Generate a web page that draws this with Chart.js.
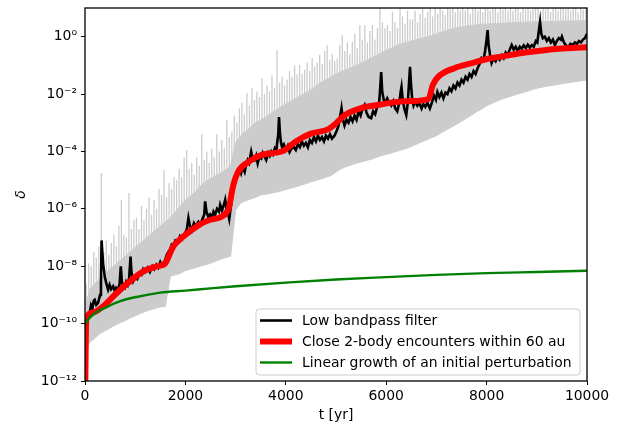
<!DOCTYPE html>
<html>
<head>
<meta charset="utf-8">
<script src="https://cdn.jsdelivr.net/npm/chart.js@4.4.1/dist/chart.umd.min.js"></script>
<style>
    html, body { margin: 0; padding: 0; background: #fff; }
    #wrap { width: 625px; height: 426px; }
</style>
</head>
<body>
<div id="wrap"><canvas id="chart" width="625" height="426"></canvas></div>
<script>
// Valeurs (log10 de delta)
const yTickExps = [-12, -10, -8, -6, -4, -2, 0];
const xTicks = [0, 2000, 4000, 6000, 8000, 10000];

// signal brut (gris) : enveloppes tous les 100 ans, pics tous les 50 ans
const grayT = Array.from({ length: 101 }, (_, i) => i * 100);
const grayLowLog = [
    -10.9, -10.65, -10.5, -10.35, -10.25, -10.15, -10.05, -9.97, -9.9, -9.8,
    -9.73, -9.65, -9.58, -9.52, -9.47, -9.42, -9.4, -8.35, -8.3, -8.25,
    -8.15, -8.1, -8.05, -8.0, -7.95, -7.9, -7.83, -7.76, -7.7, -7.65,
    -6.05, -5.8, -5.72, -5.66, -5.6, -5.52, -5.49, -5.46, -5.42, -5.38,
    -5.33, -5.28, -5.23, -5.18, -5.12, -5.06, -5.01, -4.96, -4.9, -4.84,
    -4.72, -4.6, -4.53, -4.47, -4.41, -4.37, -4.32, -4.27, -4.21, -4.15,
    -4.1, -4.05, -4.0, -3.95, -3.9, -3.83, -3.75, -3.67, -3.6, -3.52,
    -3.45, -3.35, -3.25, -3.15, -3.05, -2.95, -2.84, -2.73, -2.62, -2.52,
    -2.41, -2.33, -2.25, -2.18, -2.12, -2.07, -2.01, -1.96, -1.91, -1.85,
    -1.8, -1.76, -1.73, -1.7, -1.67, -1.64, -1.61, -1.58, -1.56, -1.53,
    -1.51
];
const grayTopLog = [
    -9.4, -8.8, -8.6, -8.45, -8.25, -8.1, -7.95, -7.8, -7.65, -7.5,
    -7.35, -7.2, -7.05, -6.9, -6.75, -6.6, -6.45, -6.3, -6.1, -5.9,
    -5.7, -5.55, -5.4, -5.2, -5.05, -4.95, -4.85, -4.75, -4.65, -4.5,
    -3.7, -3.45, -3.3, -3.15, -3.0, -2.9, -2.8, -2.68, -2.56, -2.45,
    -2.35, -2.25, -2.15, -2.05, -1.95, -1.85, -1.72, -1.6, -1.5, -1.4,
    -1.3, -1.22, -1.15, -1.08, -1.0, -0.92, -0.83, -0.74, -0.65, -0.56,
    -0.48, -0.4, -0.32, -0.25, -0.2, -0.15, -0.1, -0.06, -0.02, 0.03,
    0.1, 0.16, 0.22, 0.27, 0.31, 0.34, 0.37, 0.39, 0.41, 0.43,
    0.44, 0.45, 0.46, 0.47, 0.48, 0.49, 0.5, 0.5, 0.51, 0.51,
    0.52, 0.52, 0.53, 0.53, 0.54, 0.54, 0.55, 0.55, 0.55, 0.56,
    0.56
];
const spikeT = Array.from({ length: 200 }, (_, i) => 25 + i * 50);
const spikeLog = [
    -8.6, -7.9, -8.0, -7.5, -7.7, -7.3, -4.75, -7.5, -7.1, -7.6,
    -7.2, -6.9, -7.3, -6.6, -5.7, -6.9, -7.0, -5.45, -6.7, -6.4,
    -6.3, -6.7, -5.9, -6.4, -6.0, -5.6, -6.2, -5.7, -6.0, -5.3,
    -5.5, -4.65, -5.6, -5.1, -5.3, -4.9, -5.0, -4.6, -4.9, -4.2,
    -3.95, -4.6, -4.4, -4.8, -4.2, -4.5, -3.4, -4.3, -4.0, -4.4,
    -3.9, -4.2, -3.4, -4.0, -3.6, -3.9, -2.9, -3.5, -3.3, -2.75,
    -3.0, -2.5, -2.3, -2.7, -1.95, -2.4, -1.8, -2.2, -1.9, -2.1,
    -1.45, -2.0, -1.7, -1.9, -1.35, -1.8, -0.47, -1.6, -1.4, -1.7,
    -1.5, -1.2, -1.4, -1.0, -1.3, -0.99, -1.3, -1.15, -0.9, -1.2,
    -0.75, -1.05, -0.9, -0.64, -0.95, -0.5, -0.3, -0.8, -0.6, -0.85,
    -0.75, -0.3, 0.05, -0.5, -0.2, -0.6, -0.18, 0.1, -0.4, 0.4,
    -0.1, 0.4, -0.2, 0.2, 0.41, -0.1, 0.3, 1.0, 0.5, 0.3,
    0.41, 0.2, 0.86, 0.5, 0.3, 1.0, 0.7, 0.45, 0.9, 0.6,
    0.6, 0.9, 0.5, 0.8, 1.0, 0.65, 0.85, 1.0, 0.7, 1.0,
    0.8, 1.0, 0.9, 0.75, 1.0, 0.95, 1.0, 0.85, 1.0, 0.9,
    1.0, 0.9, 1.0, 0.8, 1.0, 1.0, 0.9, 1.0, 0.85, 1.0,
    1.0, 0.9, 1.0, 1.0, 0.85, 1.0, 0.95, 1.0, 0.9, 1.0,
    0.9, 1.0, 1.0, 0.85, 1.0, 0.95, 1.0, 0.9, 1.0, 1.0,
    1.0, 0.9, 1.0, 0.95, 1.0, 0.85, 1.0, 1.0, 0.9, 1.0,
    1.0, 0.95, 1.0, 0.9, 1.0, 1.0, 0.85, 1.0, 0.95, 1.0
];

// filtre passe-bas (noir) : [t, log10 delta]
const blackPts = [
    [10, -10.6], [40, -9.9], [70, -9.75], [93, -9.63], [120, -9.35], [150, -9.45], [175, -9.2], [193, -9.17],
    [225, -9.35], [260, -9.28], [300, -9.0], [318, -8.6], [330, -7.1], [345, -7.5], [360, -7.9], [393, -8.36],
    [425, -8.6], [460, -8.82], [490, -8.65], [520, -8.8], [560, -8.7], [590, -8.85], [620, -8.75], [660, -8.82],
    [690, -8.6], [713, -8.0], [735, -8.55], [760, -8.7], [793, -8.75], [820, -8.55], [850, -8.65], [880, -8.4],
    [907, -7.66], [925, -8.2], [960, -8.53], [1000, -8.4], [1040, -8.45], [1080, -8.25], [1127, -8.3], [1160, -8.1],
    [1200, -8.2], [1250, -8.05], [1293, -8.2], [1340, -8.0], [1380, -8.1], [1420, -7.95], [1460, -8.05], [1500, -7.85],
    [1530, -7.95], [1593, -7.8], [1630, -7.6], [1660, -7.5], [1700, -7.4], [1727, -7.25], [1760, -7.3], [1800, -7.1],
    [1850, -7.15], [1893, -6.95], [1940, -7.05], [1980, -6.9], [2030, -6.7], [2060, -6.32], [2085, -6.55], [2127, -6.75],
    [2170, -6.5], [2200, -6.6], [2260, -6.45], [2300, -6.55], [2340, -6.35], [2375, -6.2], [2393, -5.74], [2420, -6.1],
    [2460, -6.3], [2493, -6.2], [2530, -6.3], [2560, -6.1], [2593, -6.2], [2630, -6.0], [2670, -6.1], [2693, -5.86],
    [2730, -6.05], [2760, -5.9], [2793, -5.68], [2820, -6.0], [2850, -6.15], [2873, -6.35], [2900, -6.0], [2930, -5.6],
    [2960, -5.3], [2980, -5.17], [3020, -4.9], [3050, -4.65], [3080, -4.57], [3110, -4.75], [3140, -4.55], [3180, -4.71],
    [3210, -4.45], [3240, -4.3], [3270, -4.4], [3310, -4.01], [3340, -4.25], [3380, -4.3], [3410, -4.15], [3440, -4.41],
    [3470, -4.2], [3510, -4.25], [3540, -4.05], [3580, -4.19], [3610, -4.3], [3650, -4.05], [3680, -4.15], [3710, -4.0],
    [3745, -4.1], [3780, -3.9], [3810, -4.0], [3830, -3.67], [3850, -3.4], [3865, -2.8], [3885, -3.4], [3905, -3.7],
    [3925, -3.84], [3960, -3.75], [4000, -3.95], [4040, -3.8], [4075, -4.02], [4110, -3.9], [4160, -3.85], [4200, -3.95],
    [4240, -3.75], [4280, -3.85], [4320, -3.65], [4360, -3.8], [4400, -3.7], [4440, -3.85], [4480, -3.6], [4520, -3.7],
    [4560, -3.5], [4600, -3.65], [4640, -3.45], [4680, -3.6], [4720, -3.5], [4760, -3.65], [4800, -3.45], [4840, -3.55],
    [4880, -3.4], [4920, -3.55], [4970, -3.45], [5010, -3.3], [5050, -3.1], [5080, -2.8], [5110, -2.49], [5140, -2.9],
    [5170, -3.1], [5210, -2.9], [5250, -3.0], [5290, -2.8], [5330, -2.95], [5370, -2.75], [5410, -2.9], [5450, -2.6],
    [5490, -2.75], [5530, -2.5], [5570, -2.38], [5610, -2.65], [5650, -2.8], [5700, -2.84], [5740, -2.6], [5780, -2.7],
    [5820, -2.45], [5860, -2.3], [5880, -1.8], [5900, -1.23], [5920, -1.9], [5950, -2.2], [5980, -2.3], [6020, -2.15],
    [6060, -2.3], [6100, -2.4], [6140, -2.25], [6180, -2.5], [6220, -2.6], [6260, -2.3], [6290, -1.9], [6305, -1.75],
    [6330, -2.2], [6360, -2.5], [6400, -2.73], [6430, -2.3], [6455, -1.6], [6475, -1.05], [6495, -1.7], [6520, -2.2],
    [6545, -2.4], [6580, -2.25], [6620, -2.4], [6660, -2.3], [6705, -2.5], [6740, -2.35], [6780, -2.45], [6820, -2.3],
    [6870, -2.5], [6910, -2.3], [6950, -2.05], [6990, -2.2], [7020, -1.93], [7060, -2.1], [7100, -1.95], [7140, -2.15],
    [7180, -1.95], [7220, -2.0], [7260, -1.8], [7300, -1.9], [7340, -1.7], [7380, -1.8], [7420, -1.6], [7460, -1.7],
    [7500, -1.5], [7540, -1.6], [7580, -1.4], [7620, -1.5], [7660, -1.3], [7700, -1.4], [7740, -1.2], [7780, -1.3],
    [7820, -1.1], [7860, -0.95], [7900, -0.74], [7940, -0.8], [7970, -0.5], [8000, -0.1], [8020, 0.23], [8040, -0.3],
    [8070, -0.65], [8100, -0.92], [8140, -0.75], [8180, -0.85], [8220, -0.7], [8260, -0.8], [8300, -0.65], [8340, -0.75],
    [8380, -0.55], [8420, -0.65], [8460, -0.45], [8500, -0.29], [8540, -0.45], [8580, -0.35], [8620, -0.5], [8660, -0.35],
    [8700, -0.42], [8740, -0.3], [8780, -0.4], [8820, -0.28], [8860, -0.38], [8900, -0.29], [8940, -0.35], [8980, -0.15],
    [9010, -0.2], [9040, 0.2], [9065, 0.52], [9090, 0.1], [9120, -0.05], [9160, 0.0], [9200, -0.15], [9240, -0.05],
    [9280, -0.2], [9320, -0.1], [9360, -0.29], [9400, -0.15], [9440, -0.05], [9480, -0.1], [9500, 0.0], [9540, -0.2],
    [9580, -0.3], [9630, -0.36], [9670, -0.25], [9710, -0.3], [9760, -0.2], [9800, -0.25], [9840, -0.15], [9880, -0.2],
    [9920, -0.1], [9960, -0.05], [10000, 0.1]
];

// rencontres proches à 2 corps (rouge)
const redT = [
    0, 25, 150, 360, 627, 893, 1160, 1400, 1560, 1600,
    1760, 1960, 2230, 2500, 2850, 2950, 3050, 3250, 3520, 3960,
    4200, 4500, 4840, 4980, 5180, 5500, 5840, 6170, 6500, 6840,
    6930, 7030, 7370, 7710, 8030, 8370, 8700, 9020, 9360, 9700,
    10000
];
const redLog = [
    -13, -9.87, -9.62, -9.4, -8.94, -8.53, -8.18, -8.02, -7.95, -7.9,
    -7.31, -6.96, -6.61, -6.38, -6.05, -5.2, -4.71, -4.37, -4.12, -3.97,
    -3.65, -3.38, -3.23, -3.05, -2.73, -2.49, -2.38, -2.28, -2.24, -2.17,
    -1.68, -1.41, -1.09, -0.92, -0.77, -0.67, -0.57, -0.5, -0.43, -0.39,
    -0.37
];

// croissance linéaire (vert)
const greenT = [0, 100, 250, 400, 700, 1000, 1500, 2000, 2500, 3000, 4000, 5000, 6000, 7000, 8000, 9000, 10000];
const greenLog = [-10.0, -9.78, -9.58, -9.45, -9.22, -9.08, -8.92, -8.85, -8.77, -8.7, -8.57, -8.46, -8.38, -8.3, -8.24, -8.2, -8.16];

const legendLabels = [
    'Low bandpass filter',
    'Close 2-body encounters within 60 au',
    'Linear growth of an initial perturbation'
];

const pts = (ts, logs) => ts.map((t, i) => ({ x: t, y: Math.pow(10, logs[i]) }));

// pics verticaux du signal brut, depuis le haut de la bande dense
const spikePoints = [];
spikeT.forEach((t, i) => {
    const base = grayTopLog[Math.floor(t / 100)];
    spikePoints.push({ x: t, y: Math.pow(10, base) });
    spikePoints.push({ x: t, y: Math.pow(10, spikeLog[i]) });
    spikePoints.push({ x: t, y: null });
});

const SUP = { '-': '\u207B', '0': '\u2070', '1': '\u00B9', '2': '\u00B2', '3': '\u00B3', '4': '\u2074',
    '5': '\u2075', '6': '\u2076', '7': '\u2077', '8': '\u2078', '9': '\u2079' };
const sup = n => String(n).split('').map(c => SUP[c]).join('');

const FONT = 'DejaVu Sans';
Chart.defaults.font.family = FONT;
Chart.defaults.font.size = 13.9;
Chart.defaults.color = '#000';

// cadre autour de la zone de tracé + légende en bas à droite
const framePlugin = {
    id: 'frame',
    afterDraw(chart) {
        const { ctx, chartArea: a } = chart;
        ctx.save();
        ctx.strokeStyle = '#000';
        ctx.lineWidth = 1.3;
        ctx.strokeRect(a.left, a.top, a.right - a.left, a.bottom - a.top);

        // légende
        const items = chart.data.datasets.filter(d => d.inLegend);
        const w = 324, h = 66;
        const x0 = a.right - 7 - w, y0 = a.bottom - 6 - h;
        ctx.beginPath();
        ctx.roundRect(x0, y0, w, h, 3);
        ctx.fillStyle = 'rgba(255,255,255,0.8)';
        ctx.fill();
        ctx.strokeStyle = '#cccccc';
        ctx.lineWidth = 1;
        ctx.stroke();
        ctx.font = '13.9px "' + FONT + '"';
        ctx.textBaseline = 'middle';
        ctx.fillStyle = '#000';
        items.forEach((d, i) => {
            const yy = y0 + 11.5 + i * 21;
            ctx.beginPath();
            ctx.moveTo(x0 + 4, yy);
            ctx.lineTo(x0 + 36, yy);
            ctx.strokeStyle = d.borderColor;
            ctx.lineWidth = d.borderWidth;
            ctx.stroke();
            ctx.fillText(d.label, x0 + 46, yy + 1);
        });
        ctx.restore();
    }
};

const config = {
    type: 'line',
    data: {
        datasets: [
            {
                label: 'raw low',
                data: pts(grayT, grayLowLog),
                borderColor: '#cccccc',
                borderWidth: 1,
                pointRadius: 0,
                fill: false,
                order: 5
            },
            {
                label: 'raw top',
                data: pts(grayT, grayTopLog),
                borderColor: '#cccccc',
                backgroundColor: '#cccccc',
                borderWidth: 1,
                pointRadius: 0,
                fill: '-1',
                order: 4
            },
            {
                label: 'raw spikes',
                data: spikePoints,
                borderColor: '#cccccc',
                borderWidth: 1.3,
                pointRadius: 0,
                fill: false,
                spanGaps: false,
                order: 3
            },
            {
                label: legendLabels[0],
                data: blackPts.map(p => ({ x: p[0], y: Math.pow(10, p[1]) })),
                borderColor: '#000000',
                borderWidth: 2.6,
                pointRadius: 0,
                fill: false,
                inLegend: true,
                order: 2
            },
            {
                label: legendLabels[1],
                data: pts(redT, redLog),
                borderColor: '#ff0000',
                borderWidth: 6,
                pointRadius: 0,
                fill: false,
                cubicInterpolationMode: 'monotone',
                inLegend: true,
                order: 1
            },
            {
                label: legendLabels[2],
                data: pts(greenT, greenLog),
                borderColor: '#008000',
                borderWidth: 2.4,
                pointRadius: 0,
                fill: false,
                cubicInterpolationMode: 'monotone',
                inLegend: true,
                order: 0
            }
        ]
    },
    options: {
        responsive: false,
        animation: false,
        devicePixelRatio: 1,
        layout: { padding: { top: 8, right: 38, left: 0, bottom: 0 } },
        plugins: {
            legend: { display: false },
            tooltip: { enabled: false }
        },
        scales: {
            x: {
                type: 'linear',
                min: 0,
                max: 10000,
                afterFit: s => { s.height = 45; s.paddingLeft = 0; s.paddingRight = 0; },
                afterBuildTicks: s => { s.ticks = xTicks.map(v => ({ value: v })); },
                ticks: { maxRotation: 0, autoSkip: false, padding: 3, callback: v => String(v) },
                grid: { drawOnChartArea: false, tickLength: 4, tickColor: '#000', tickWidth: 1 },
                border: { display: false },
                title: { display: true, text: 't [yr]', padding: { top: 0, bottom: 2 } }
            },
            y: {
                type: 'logarithmic',
                min: 1e-12,
                max: 10,
                afterFit: s => { s.width = 85; s.paddingTop = 0; s.paddingBottom = 0; },
                afterBuildTicks: s => { s.ticks = yTickExps.map(e => ({ value: Math.pow(10, e) })); },
                ticks: {
                    autoSkip: false,
                    padding: 4,
                    callback: v => '10' + sup(Math.round(Math.log10(v)))
                },
                grid: { drawOnChartArea: false, tickLength: 4, tickColor: '#000', tickWidth: 1 },
                border: { display: false },
                title: { display: true, text: 'δ', font: { style: 'italic' }, padding: { top: 13, bottom: 0 } }
            }
        }
    },
    plugins: [framePlugin]
};

new Chart(document.getElementById('chart'), config);
</script>
</body>
</html>
